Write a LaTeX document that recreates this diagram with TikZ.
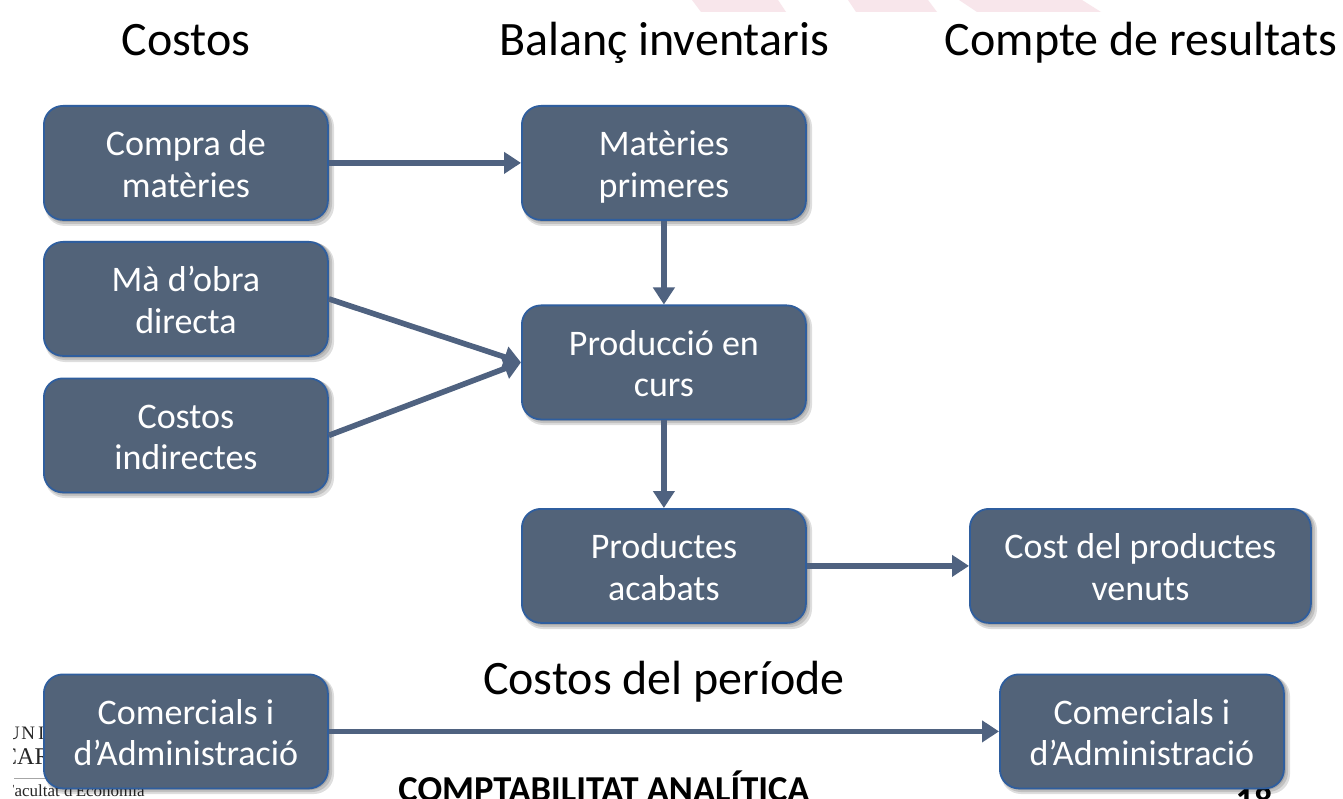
\documentclass[tikz,border=0pt]{standalone}
\usepackage{fontspec}
\setmainfont{Carlito}
\newfontfamily\serifpart{Liberation Serif}
\usetikzlibrary{arrows.meta}
\definecolor{boxfill}{HTML}{526379}
\definecolor{boxline}{HTML}{2F5E9E}
\definecolor{arrowc}{HTML}{4F6280}
\definecolor{pinkc}{HTML}{F8E6EB}
\tikzset{
  x=1pt,y=-1pt,
  flowbox/.style={draw=boxline,line width=1.8pt,fill=boxfill,rounded corners=19pt,text=white,font=\fontsize{36}{41.5}\selectfont,align=center,minimum height=114pt,inner sep=0pt,anchor=north west},
  shadowbox/.style={fill=black,opacity=.13,rounded corners=20pt},
  headtext/.style={font=\fontsize{48}{50}\selectfont,text=black,inner sep=0pt,anchor=base},
  flowarrow/.style={draw=arrowc,line width=5.6pt,-{Triangle[length=17pt,width=21pt]},shorten >=0pt},
  backtext/.style={inner sep=0pt,anchor=base west,text=black!85},
  pinkband/.style={fill=pinkc,draw=none},
  cuttext/.style={font=\fontsize{36.5}{40}\selectfont\bfseries,inner sep=0pt,anchor=base,text=black},
}
\newcommand{\shadowat}[4]{%
  \fill[shadowbox] (#1+2,#2+3) rectangle (#3+6,#4+6);
  \fill[shadowbox] (#1+2,#2+2) rectangle (#3+4,#4+4);
  \fill[shadowbox] (#1+2,#2+1) rectangle (#3+2,#4+2);
}
\newcommand{\twolines}[2]{\rule{0pt}{40pt}#1\\#2\rule[-12.45pt]{0pt}{0pt}}
\begin{document}
\begin{tikzpicture}
\useasboundingbox (0,0) rectangle (1343,799);
\clip (0,0) rectangle (1343,799);
\fill[white] (0,0) rectangle (1343,799);
% pink stripes
\fill[pinkband] (692,0) -- (778,0) -- (786,12) -- (701,12) -- cycle;
\fill[pinkband] (848,0) -- (928,0) -- (937,12) -- (856,12) -- cycle;
\fill[pinkband] (959,0) -- (1082,0) -- (1101,12) -- (977,12) -- cycle;
% background slide remains
\begin{scope}
\clip (13.5,700) rectangle (200,799);
\node[backtext,font=\serifpart\fontsize{19}{20}\selectfont] (uni) at (6,739) {U\kern1.5pt N\kern3pt I};
\node[backtext,font=\serifpart\fontsize{24}{26}\selectfont] (car) at (1,764) {CAR};
\node[backtext,font=\serifpart\fontsize{17}{18}\selectfont] (fac) at (5,796) {Facultat d'Economia};
\end{scope}
\draw[black!35,line width=.8pt] (14,778) -- (60,778);
\node[cuttext] (course) at (604,801) {COMPTABILITAT ANALÍTICA};
\node[cuttext] (page) at (1254,812) {18};
% headings
\node[headtext] (h1) at (186,56) {Costos};
\node[headtext] (h2) at (664,56) {Balanç inventaris};
\node[headtext] (h3) at (1141,56) {Compte de resultats};
\node[headtext] (h4) at (664,694) {Costos del període};
% shadows
\shadowat{43}{104}{328}{220}
\shadowat{521}{104}{806}{220}
\shadowat{43}{240}{328}{356}
\shadowat{43}{377}{328}{492}
\shadowat{521}{304}{806}{419}
\shadowat{521}{507}{806}{623}
\shadowat{969}{507}{1311}{623}
\shadowat{43}{673}{328}{788}
\shadowat{999}{673}{1284}{788}
% boxes
\node[flowbox,minimum width=284pt] (compra) at (43,105) {\twolines{Compra de}{matèries}};
\node[flowbox,minimum width=284pt] (mat) at (521,105) {\twolines{Matèries}{primeres}};
\node[flowbox,minimum width=284pt] (mao) at (43,241) {\twolines{Mà d’obra}{directa}};
\node[flowbox,minimum width=284pt] (ind) at (43,377.5) {\twolines{Costos}{indirectes}};
\node[flowbox,minimum width=284pt] (prod) at (521,304.5) {\twolines{Producció en}{curs}};
\node[flowbox,minimum width=284pt] (acab) at (521,508) {\twolines{Productes}{acabats}};
\node[flowbox,minimum width=341pt] (venut) at (969,508) {\twolines{Cost del productes}{venuts}};
\node[flowbox,minimum width=284pt] (coml) at (43,673.5) {\twolines{Comercials i}{d’Administració}};
\node[flowbox,minimum width=284pt] (comr) at (999,673.5) {\twolines{Comercials i}{d’Administració}};
% connectors
\draw[flowarrow] (compra.east) -- (mat.west);
\draw[flowarrow] (mat.south) -- (prod.north);
\draw[flowarrow] (mao.east) -- (prod.west);
\draw[flowarrow] (ind.east) -- (prod.west);
\draw[flowarrow] (prod.south) -- (acab.north);
\draw[flowarrow] (acab.east) -- (venut.west);
\draw[flowarrow] (coml.east) -- (comr.west);
\end{tikzpicture}
\end{document}
